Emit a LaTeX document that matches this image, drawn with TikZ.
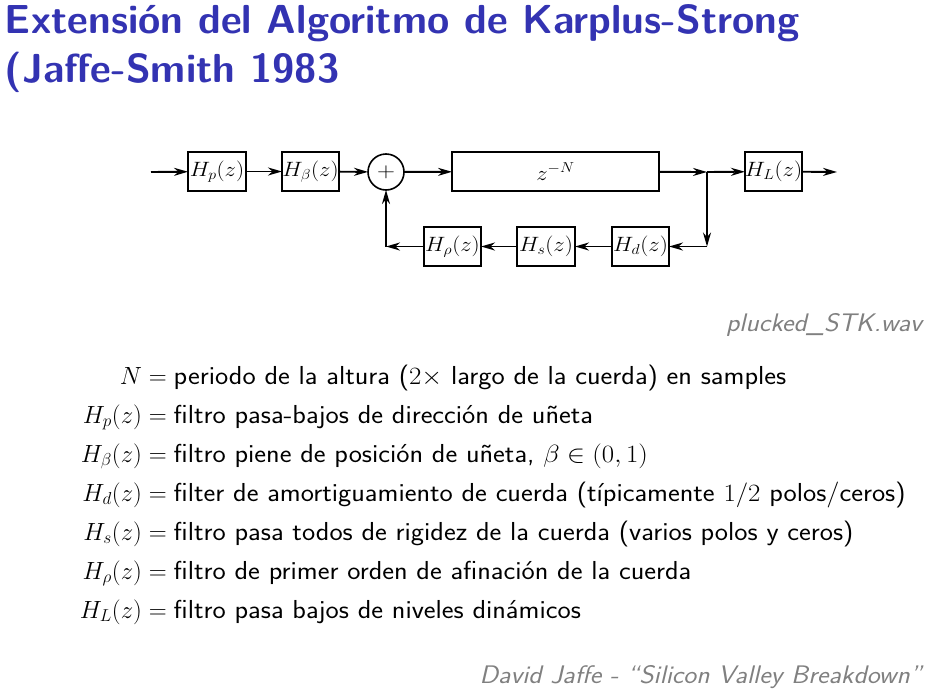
\documentclass[tikz,border=0pt]{standalone}
\usepackage{fontspec}
\usepackage{graphicx}
\usetikzlibrary{arrows.meta}
\definecolor{titleblue}{rgb}{0.2,0.2,0.7}
\definecolor{notegray}{gray}{0.5}
% slightly widened text and labels
\newcommand\xwide[2][1.08]{\scalebox{#1}[1]{#2}}
\newcommand\mth[1]{{\fontsize{24}{28}\selectfont$#1$}}
\begin{document}
\begin{tikzpicture}[x=1pt,y=-1pt,
  every node/.style={inner sep=0pt, outer sep=0pt},
  blk/.style={draw, line width=1.9pt, minimum height=39pt, font=\fontsize{19.5}{23}\selectfont},
  sig/.style={line width=1.9pt, -{Stealth[length=14pt,width=8pt,inset=4.5pt]}},
  deftext/.style={font=\sffamily\fontsize{26}{30}\selectfont},
  defmath/.style={font=\fontsize{24}{28}\selectfont},
  note/.style={font=\sffamily\itshape\fontsize{25.4}{29}\selectfont, text=notegray}]
\useasboundingbox (0,0) rectangle (952,696);

% slide title
\node[anchor=base west, font=\sffamily\bfseries\fontsize{40.5}{48}\selectfont, text=titleblue]
  (t1) at (5,33) {Extensión del Algoritmo de Karplus-Strong};
\node[anchor=base west, font=\sffamily\bfseries\fontsize{40.5}{48}\selectfont, text=titleblue]
  (t2) at (5,82) {(Jaffe-Smith 1983};

% block diagram of the extended plucked string
\coordinate (in)  at (151,172);
\node[blk, minimum width=58pt] (hp) at (217,171.5) {\xwide[1.1]{$H_p(z)$}};
\node[blk, minimum width=57pt] (hb) at (310.5,171.5) {\xwide[1.1]{$H_\beta(z)$}};
\node[draw, circle, line width=1.6pt, minimum size=36pt, font=\fontsize{22}{24}\selectfont] (sum) at (386,172) {\xwide[1.2]{$+$}};
\node[blk, minimum width=207pt] (zn) at (555.5,171.5) {\xwide[1.1]{$z^{-N}$}};
\coordinate (jn)  at (707,172);
\node[blk, minimum width=57pt] (hl) at (773.5,171.5) {\xwide[1.1]{$H_L(z)$}};
\coordinate (out) at (837,172);
\coordinate (jb)  at (707,246.5);
\node[blk, minimum width=57pt] (hd) at (640.5,246.5) {\xwide[1.1]{$H_d(z)$}};
\node[blk, minimum width=58pt] (hs) at (546,246.5) {\xwide[1.1]{$H_s(z)$}};
\node[blk, minimum width=57pt] (hr) at (452.5,246.5) {\xwide[1.1]{$H_\rho(z)$}};
\coordinate (sb)  at (386,246.5);

\draw[sig] (in) -- (hp);
\draw[sig] (hp) -- (hb);
\draw[sig] (hb) -- (sum);
\draw[sig] (sum) -- (zn);
\draw[sig] (zn) -- (jn);
\draw[sig] (jn) -- (hl);
\draw[sig] (hl) -- (out);
\draw[sig] (jn) -- (jb);
\draw[sig] (jb) -- (hd);
\draw[sig] (hd) -- (hs);
\draw[sig] (hs) -- (hr);
\draw[sig] (hr) -- (sb);
\draw[sig] (sb) -- (sum);

% sound file reference
\node[note, anchor=base east] (wav) at (922,331) {\xwide{plucked\_STK.wav}};

% definitions of the symbols
\foreach \lhs/\rhs/\y [count=\i] in {
  {$N$}/{periodo de la altura (\mth{2\times} largo de la cuerda) en samples}/384,
  {$H_p(z)$}/{filtro pasa-bajos de dirección de uñeta}/423,
  {$H_\beta(z)$}/{filtro piene de posición de uñeta, \mth{\beta\in(0,1)}}/462,
  {$H_d(z)$}/{filter de amortiguamiento de cuerda (típicamente \mth{1/2} polos/ceros)}/501,
  {$H_s(z)$}/{filtro pasa todos de rigidez de la cuerda (varios polos y ceros)}/540,
  {$H_\rho(z)$}/{filtro de primer orden de afinación de la cuerda}/579,
  {$H_L(z)$}/{filtro pasa bajos de niveles dinámicos}/618}{
  \node[defmath, anchor=base east] (l\i) at (142,\y) {\lhs};
  \node[deftext, anchor=base west] (r\i) at (142,\y) {\mth{{}={}}\xwide{\rhs}};
}

% footer credit
\node[note, anchor=base east] (credit) at (922,683) {\xwide{David Jaffe - ``Silicon Valley Breakdown''}};
\end{tikzpicture}
\end{document}
